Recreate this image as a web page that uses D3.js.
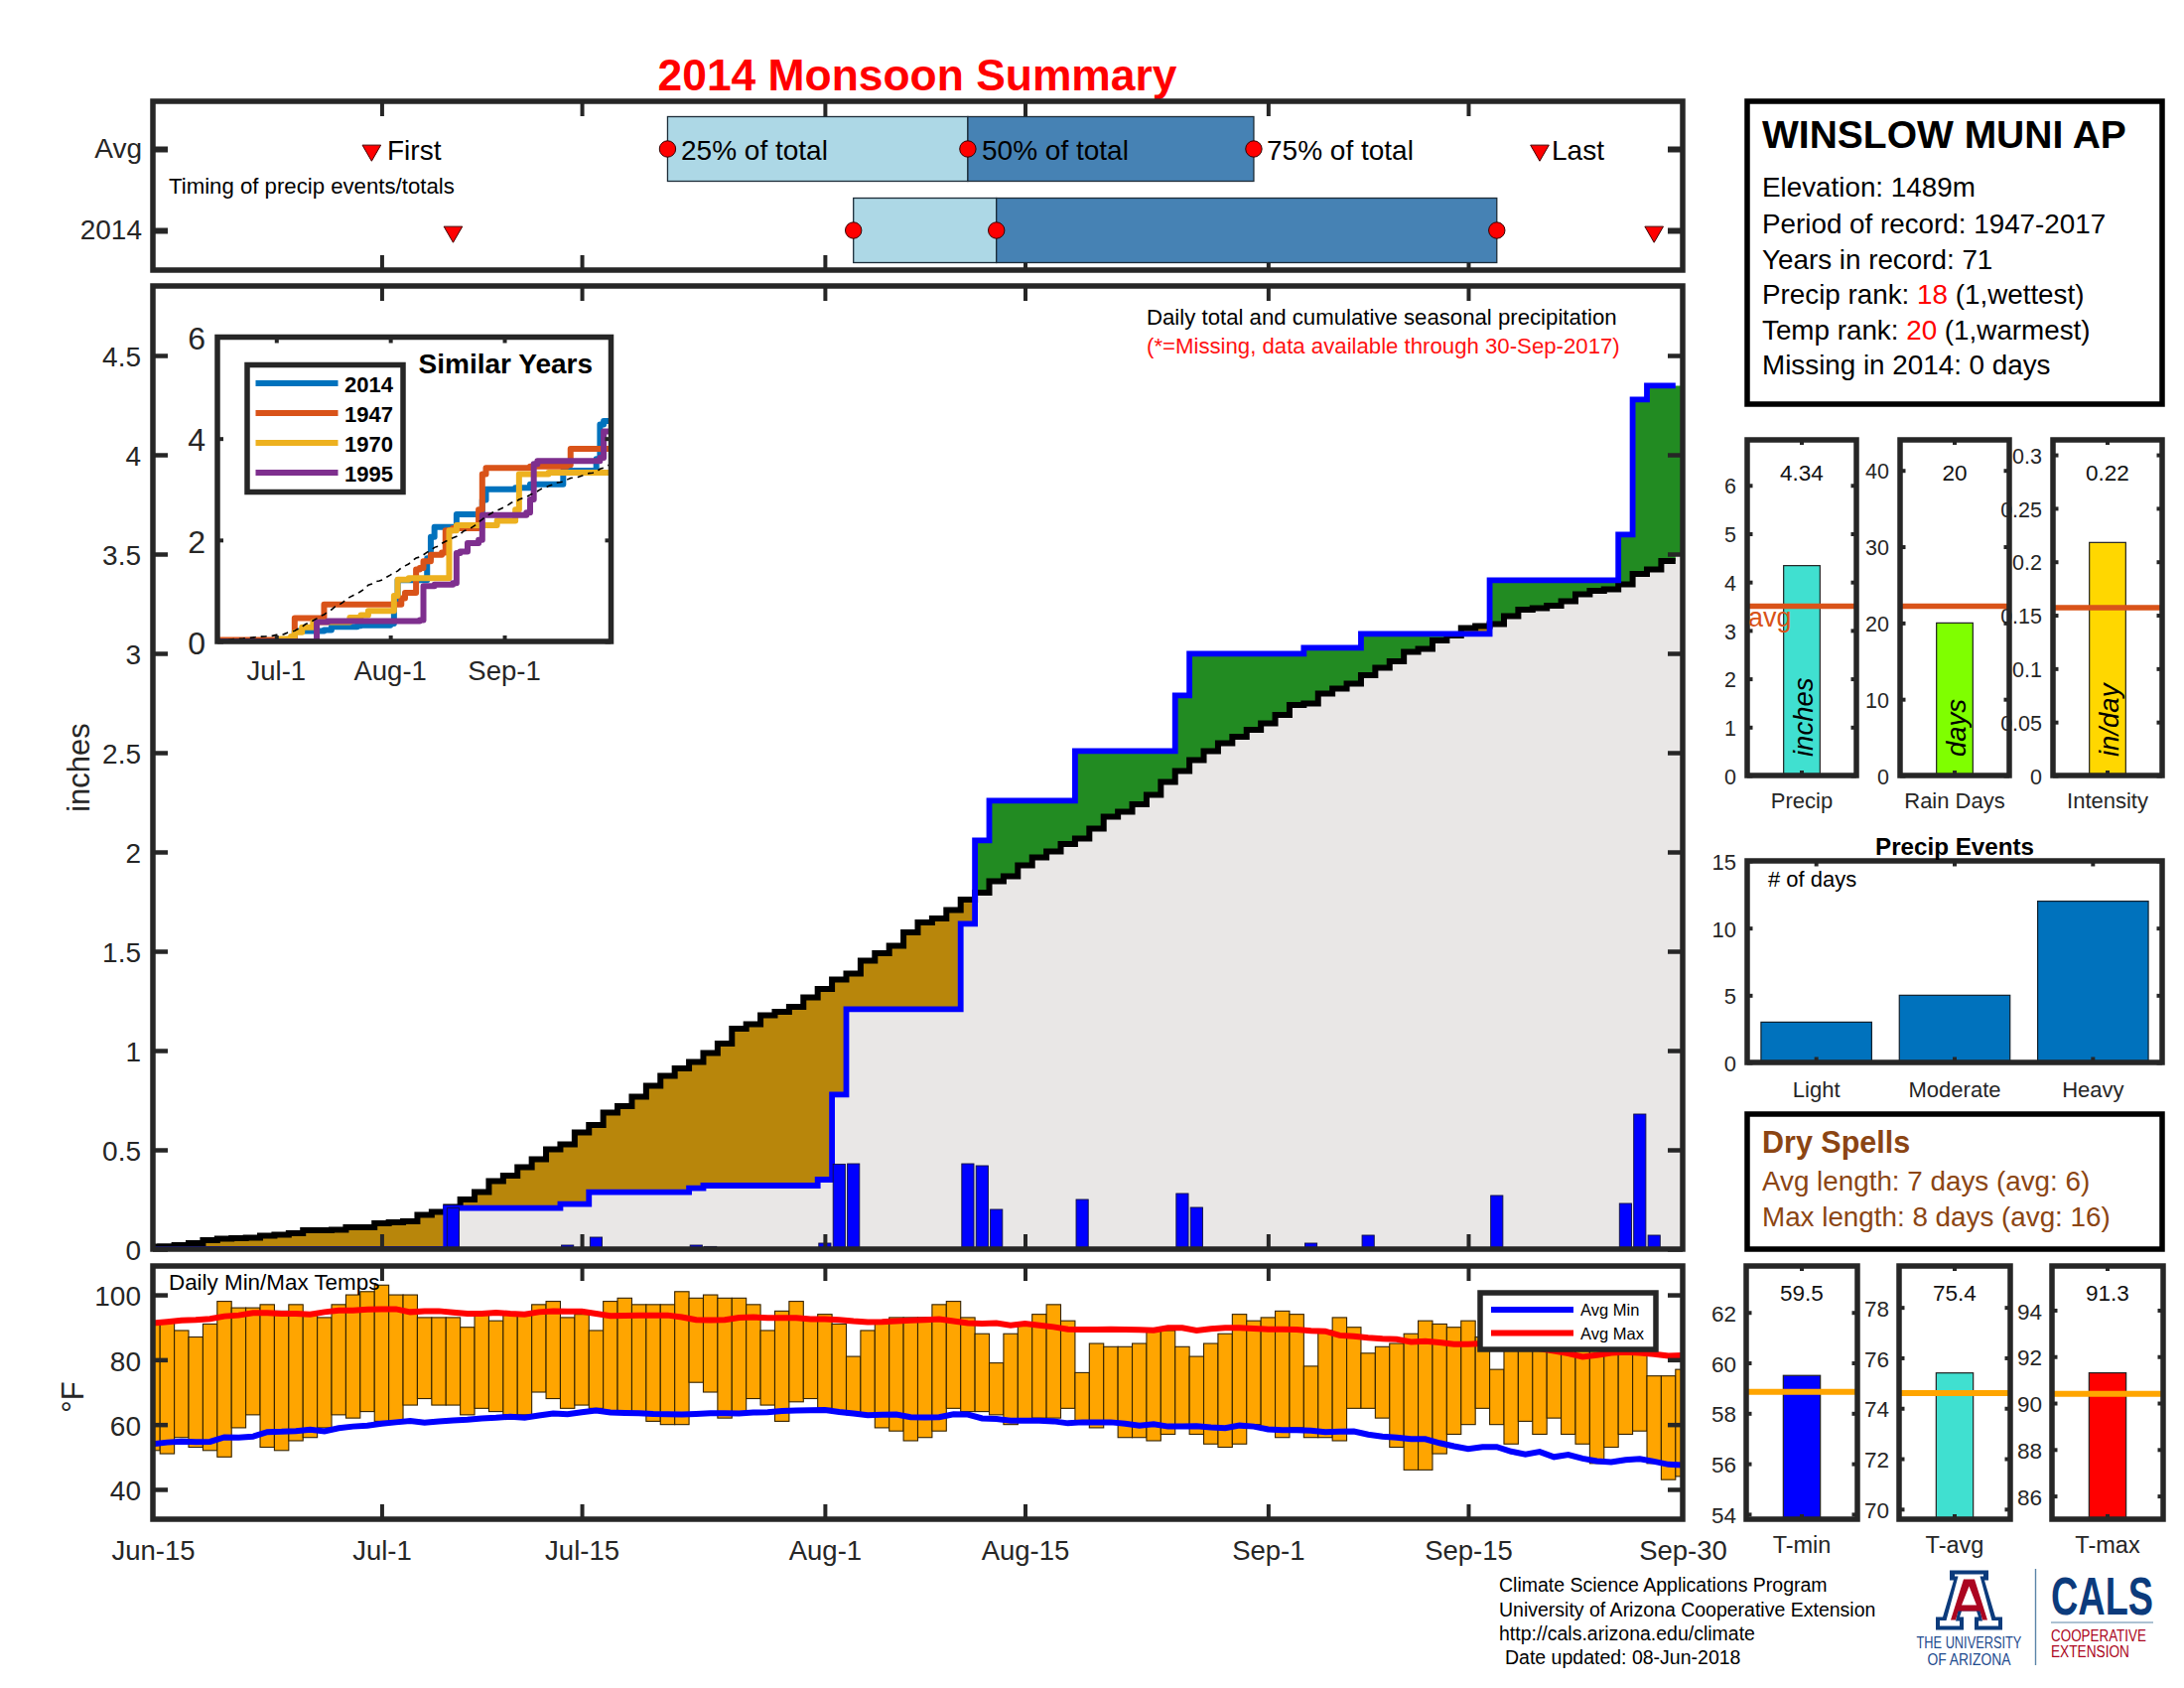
<!DOCTYPE html>
<html><head><meta charset="utf-8">
<script src="https://cdn.jsdelivr.net/npm/d3@7"></script>
<style>html,body{margin:0;padding:0;background:#fff}svg{display:block}text{font-family:"Liberation Sans",Arial,sans-serif}</style>
</head><body><div id="c"></div>
<script>
// ---------- DATA ----------
const dayTicks=[0,16,30,47,61,78,92,107];
const dayLabels=["Jun-15","Jul-1","Jul-15","Aug-1","Aug-15","Sep-1","Sep-15","Sep-30"];
const innerTicks=[16,30,47,61,78,92];
const rowLabels=["Avg","2014"];
const timingAvg=[36,57,77];
const timing2014=[49,59,94];
const firstLast=[[15.3,97],[21,105]];
const timingNames=["25% of total","50% of total","75% of total"];

const dailyDays=[21,29,31,38,39,47,48,49,57,58,59,65,72,73,81,85,94,103,104,105];
const dailyVals=[.207,.02,.06,.02,.013,.03,.428,.43,.43,.42,.2,.25,.28,.21,.03,.07,.27,.23,.68,.07];
const avgCum=[.012,.014,.02,.03,.045,.053,.055,.058,.068,.072,.08,.095,.095,.097,.11,.11,.13,.135,.14,.173,.187,.212,.25,.287,.342,.37,.412,.453,.503,.528,.587,.625,.687,.72,.767,.823,.873,.91,.943,.988,1.035,1.11,1.133,1.178,1.195,1.22,1.267,1.31,1.357,1.387,1.453,1.49,1.527,1.595,1.645,1.665,1.707,1.76,1.795,1.853,1.878,1.932,1.973,2.003,2.04,2.068,2.118,2.178,2.203,2.24,2.287,2.353,2.407,2.462,2.507,2.548,2.58,2.615,2.648,2.69,2.74,2.748,2.798,2.823,2.848,2.89,2.927,2.96,3.007,3.023,3.065,3.09,3.127,3.137,3.148,3.187,3.22,3.228,3.24,3.262,3.298,3.315,3.323,3.348,3.40,3.423,3.465,3.49];

const tMax=[91,92,89,87,91,98,96,96,97,95,97,94,93,97,100,101,103,100,100,93,93,93,90,94,92,94,94,97,98,93,94,89,98,99,97,97,97,101,99,100,99,99,97,89,95,98,92,94,91,81,89,92,93,93,93,97,98,93,88,79,88,91,94,97,92,76,85,84,84,85,89,89,84,81,85,88,94,92,93,95,94,78,89,93,90,82,84,85,88,92,91,90,92,87,77,90,88,87,88,86,84,87,86,85,85,75,75,77];
const tMin=[52,51,56,53,52,50,59,63,53,52,55,56,59,63,62,64,61,61,66,68,66,66,63,65,64,63,63,70,68,65,66,65,64,64,63,61,60,60,73,70,62,63,68,66,61,67,68,65,64,63,63,59,58,55,56,58,65,64,64,63,60,61,62,62,65,61,59,61,56,56,55,57,60,57,54,53,54,60,59,56,59,56,56,55,65,65,62,53,46,46,51,57,60,65,60,54,61,57,62,57,54,48,53,57,58,48,43,44];
const avgMax=[91.3,91.7,92.1,92.3,92.6,93.4,93.7,94.4,94.4,94.2,94.2,94.0,94.7,95.2,95.2,95.5,95.6,95.6,94.7,95.0,95.0,94.6,94.2,94.2,94.5,94.2,94.0,94.7,95.0,94.9,94.9,94.2,93.5,93.6,93.7,93.7,93.7,93.1,92.3,92.2,92.3,93.0,93.1,92.9,92.9,92.9,92.5,92.5,92.3,91.9,91.6,91.7,91.9,92.1,92.3,92.5,91.9,91.3,91.1,91.3,90.6,91.1,90.6,90.1,89.4,89.3,89.3,89.4,89.3,89.2,89.1,89.8,89.8,89.0,89.5,89.8,89.8,89.6,89.4,89.4,89.3,88.9,88.8,87.5,87.2,86.8,86.5,86.3,85.5,85.7,85.3,84.8,84.8,85.0,85.0,84.5,84.2,83.4,82.7,81.9,80.9,81.4,82.1,82.3,82.1,81.7,81.2,81.3];
const avgMin=[54.0,54.5,54.8,54.6,54.7,56.1,56.0,56.3,57.7,57.8,58.0,58.4,57.9,58.9,59.4,59.7,60.3,60.7,61.1,60.6,61.0,61.3,61.5,61.9,62.1,62.4,62.1,62.8,63.4,63.2,63.8,64.3,63.7,63.6,63.5,63.3,63.2,63.1,63.3,63.5,63.5,63.4,63.7,63.8,64.2,64.3,64.4,64.5,63.9,63.4,62.9,63.0,63.1,62.3,62.2,62.3,63.2,63.1,61.9,61.7,61.2,61.2,61.2,61.0,60.4,60.7,60.7,60.7,60.3,59.7,60.1,59.4,59.4,59.5,59.1,58.9,59.7,59.4,58.5,58.3,58.3,58.1,57.7,57.8,57.9,56.9,56.3,56.0,55.5,55.5,54.3,53.3,52.5,53.1,53.1,51.7,50.8,51.6,50.0,50.7,49.5,48.7,48.4,49.1,49.4,48.6,47.7,47.5];

const y1947Days=[0,16,20,21,29,49,50,51,54,55,56,58,61,62,64,71,72,73,85,95,96,107];
const y1947Vals=[.03,.04,.06,.46,.73,.73,.85,.96,1.42,1.45,1.58,1.71,1.75,2.19,2.23,2.6,3.3,3.42,3.45,3.48,3.8,3.8];
const y1970Days=[0,17,20,21,23,26,36,39,41,48,49,52,63,65,76,81,82,90,107];
const y1970Vals=[0,.05,.1,.18,.28,.38,.47,.52,.6,.9,1.22,1.25,2.19,2.29,2.38,2.6,3.3,3.33,3.35];
const y1995Days=[0,27,30,55,56,59,64,65,66,68,71,72,84,85,86,87,104,105,107];
const y1995Vals=[0,.38,.4,.42,1.09,1.12,1.15,1.74,1.77,1.94,2.0,2.49,2.54,2.8,3.5,3.56,3.62,4.14,4.2];
const similarNames=["2014","1947","1970","1995"];
const similarColors=["#0072BD","#D95319","#EDB120","#7E2F8E"];

const eventCats=["Light","Moderate","Heavy"];
const eventVals=[3,5,12];
const stationLines=["Elevation: 1489m","Period of record: 1947-2017","Years in record: 71"];
const footerLines=["Climate Science Applications Program","University of Arizona Cooperative Extension","http://cals.arizona.edu/climate"," Date updated: 08-Jun-2018"];

// ---------- SETUP ----------
const DK="#262626";
const svg=d3.select("#c").append("svg").attr("width",2200).attr("height",1700).attr("viewBox","0 0 2200 1700");
const defs=svg.append("defs");
function T(p,x,y,s,size,o={}){
  const t=p.append("text").attr("x",x).attr("y",y).attr("font-size",size).attr("fill",o.fill||"#000").text(s);
  if(o.anchor)t.attr("text-anchor",o.anchor);
  if(o.bold)t.attr("font-weight","bold");
  if(o.italic)t.attr("font-style","italic");
  if(o.rot!==undefined)t.attr("transform",`rotate(${o.rot} ${x} ${y})`);
  if(o.len){ // squeeze horizontally to a given width
    const w=t.node().getComputedTextLength();
    t.attr("x",0).attr("y",0).attr("transform",`translate(${x},${y}) scale(${o.len/w},1)`);
  }
  return t;
}
function styleAxis(g,o){
  g.select(".domain").remove();
  g.selectAll(".tick line").attr("stroke",o.color||DK).attr("stroke-width",o.tw||4);
  g.selectAll(".tick text").attr("fill",o.color||DK).attr("font-size",o.fs||27).attr("font-family",'"Liberation Sans",Arial,sans-serif');
  return g;
}
function frame(p,x0,x1,y0,y1,sw,color){
  p.append("rect").attr("x",x0).attr("y",y0).attr("width",x1-x0).attr("height",y1-y0).attr("fill","none").attr("stroke",color||DK).attr("stroke-width",sw);
}
function bg(p,x0,x1,y0,y1){p.append("rect").attr("x",x0).attr("y",y0).attr("width",x1-x0).attr("height",y1-y0).attr("fill","#fff");}
function clip(id,x0,x1,y0,y1){defs.append("clipPath").attr("id",id).append("rect").attr("x",x0).attr("y",y0).attr("width",x1-x0).attr("height",y1-y0);}
function xTicks(p,x,yTop,yBot,len,tw,vals){
  vals=vals||innerTicks;
  styleAxis(p.append("g").attr("transform",`translate(0,${yBot})`).call(d3.axisBottom(x).tickValues(vals).tickSize(-len).tickFormat("")),{tw});
  styleAxis(p.append("g").attr("transform",`translate(0,${yTop})`).call(d3.axisTop(x).tickValues(vals).tickSize(-len).tickFormat("")),{tw});
}
function yTicks(p,y,xL,xR,len,tw,vals,fmt,fs,pad){
  const a=styleAxis(p.append("g").attr("transform",`translate(${xL},0)`).call(d3.axisLeft(y).tickValues(vals).tickSize(-len).tickPadding(pad).tickFormat(fmt)),{tw,fs});
  a.selectAll(".tick text").attr("dy",".38em");
  styleAxis(p.append("g").attr("transform",`translate(${xR},0)`).call(d3.axisRight(y).tickValues(vals).tickSize(-len).tickFormat("")),{tw});
}
const L=154,R=1695;
const x=d3.scaleLinear().domain([0,107]).range([L,R]);

// Title
T(svg,924,91,"2014 Monsoon Summary",44.4,{fill:"#f00",bold:true,anchor:"middle"});

// ---------- TIMING STRIP ----------
{
  const g=svg.append("g");const top=102,bot=272;
  const cy={Avg:150,"2014":232};const h=65;
  const rows=[["Avg",timingAvg],["2014",timing2014]];
  xTicks(g,x,top,bot,15,4);
  rows.forEach(([k,v])=>{
    g.append("rect").attr("x",x(v[0])).attr("width",x(v[1])-x(v[0])).attr("y",cy[k]-h/2).attr("height",h).attr("fill","#ADD8E6").attr("stroke","#1c2c38").attr("stroke-width",1.3);
    g.append("rect").attr("x",x(v[1])).attr("width",x(v[2])-x(v[1])).attr("y",cy[k]-h/2).attr("height",h).attr("fill","#4682B4").attr("stroke","#1c2c38").attr("stroke-width",1.3);
    v.forEach(d=>g.append("circle").attr("cx",x(d)).attr("cy",cy[k]).attr("r",8.2).attr("fill","#f00").attr("stroke","#300").attr("stroke-width",1));
  });
  rows.forEach(([k],i)=>firstLast[i].forEach(d=>{
    g.append("path").attr("d",d3.symbol(d3.symbolTriangle,150)).attr("transform",`translate(${x(d)},${cy[k]+1.5}) rotate(180)`).attr("fill","#f00").attr("stroke","#400").attr("stroke-width",1);
  }));
  const ya=d3.scalePoint().domain(rowLabels).range([cy.Avg,cy["2014"]]);
  styleAxis(g.append("g").attr("transform",`translate(${L},0)`).call(d3.axisLeft(ya).tickSize(-15).tickPadding(11)),{tw:6,fs:28});
  styleAxis(g.append("g").attr("transform",`translate(${R},0)`).call(d3.axisRight(ya).tickSize(-15).tickFormat("")),{tw:6});
  T(g,390,161,"First",28);
  T(g,686,161,timingNames[0],28);
  T(g,989,161,timingNames[1],28);
  T(g,1276,161,timingNames[2],28);
  T(g,1563,161,"Last",28);
  T(g,170,195,"Timing of precip events/totals",22.2);
  frame(g,L,R,top,bot,5.5);
}

// ---------- MAIN PRECIP ----------
{
  const g=svg.append("g");const top=288,bot=1258;
  const y=d3.scaleLinear().domain([0,4.85]).range([bot,top]);
  clip("mc",L,R,top,bot);
  const days=d3.range(108);
  const daily=days.map(i=>{const k=dailyDays.indexOf(i);return k<0?0:dailyVals[k];});
  const cum=Array.from(d3.cumsum(daily));
  const pts=days.map(i=>({i,a:avgCum[i],c:cum[i]}));
  const xe=d=>x(d.i-.5);
  const fillPts=pts.concat([{i:108,a:avgCum[107],c:cum[107]}]);
  const area=(y0,y1)=>d3.area().x(xe).y0(d=>y(y0(d))).y1(d=>y(y1(d))).curve(d3.curveStepAfter);
  const m=g.append("g").attr("clip-path","url(#mc)");
  m.append("path").datum(fillPts).attr("d",area(d=>0,d=>Math.min(d.a,d.c))).attr("fill","#E9E7E6");
  m.append("path").datum(fillPts).attr("d",area(d=>Math.min(d.a,d.c),d=>d.a)).attr("fill","#B8860B");
  m.append("path").datum(fillPts).attr("d",area(d=>d.a,d=>Math.max(d.a,d.c))).attr("fill","#228B22");
  const stair=k=>d3.line().x(xe).y(d=>y(d[k])).curve(d3.curveStepAfter);
  const linePts=pts.filter(d=>d.i<=106).concat([{i:107,a:avgCum[106],c:cum[106]}]);
  m.append("path").datum(linePts).attr("d",stair("a")).attr("fill","none").attr("stroke","#000").attr("stroke-width",6);
  m.append("path").datum(linePts).attr("d",stair("c")).attr("fill","none").attr("stroke","#00f").attr("stroke-width",5.8);
  const bw=12.2;
  m.selectAll(".db").data(dailyDays.map((d,i)=>({d,v:dailyVals[i]}))).join("rect").attr("x",d=>x(d.d)-bw/2).attr("width",bw).attr("y",d=>y(d.v)).attr("height",d=>y(0)-y(d.v)).attr("fill","#00f").attr("stroke","#111140").attr("stroke-width",.9);
  xTicks(g,x,top,bot,15,4);
  yTicks(g,y,L,R,15,4.5,d3.range(0,4.6,.5),d=>d,28,12);
  frame(g,L,R,top,bot,5.5);
  T(g,90,773,"inches",31,{anchor:"middle",rot:-90,fill:DK});
  T(g,1155,327,"Daily total and cumulative seasonal precipitation",22.2);
  T(g,1155,356,"(*=Missing, data available through 30-Sep-2017)",22.2,{fill:"#f11"});

  // inset
  const ig=g.append("g");
  const iL=219,iR=615.5,iT=339.5,iB=646;
  const ix=d3.scaleLinear().domain([0,107]).range([iL,iR]);
  const iy=d3.scaleLinear().domain([0,6]).range([iB,iT]);
  bg(ig,iL,iR,iT,iB);
  clip("ic",iL,iR,iT,iB);
  const ic=ig.append("g").attr("clip-path","url(#ic)");
  const is=d3.line().x(d=>ix(d[0])).y(d=>iy(d[1])).curve(d3.curveStepAfter);
  const to=(ds,vs)=>ds.map((d,i)=>[d,vs[i]]);
  const series=[days.map(i=>[i,cum[i]]),to(y1947Days,y1947Vals),to(y1970Days,y1970Vals),to(y1995Days,y1995Vals)];
  series.forEach((s,i)=>ic.append("path").datum(s).attr("d",is).attr("fill","none").attr("stroke",similarColors[i]).attr("stroke-width",6).attr("stroke-linejoin","round"));
  ic.append("path").datum(days.map(i=>[i,avgCum[i]])).attr("d",d3.line().x(d=>ix(d[0])).y(d=>iy(d[1]))).attr("fill","none").attr("stroke","#000").attr("stroke-width",1.6).attr("stroke-dasharray","6 5");
  xTicks(ig,ix,iT,iB,6,4,[16,47,78]);
  yTicks(ig,iy,iL,iR,6,4,[0,2,4,6],d=>d,32,12);
  [16,47,78].forEach((d,i)=>T(ig,ix(d),685,["Jul-1","Aug-1","Sep-1"][i],27.5,{anchor:"middle",fill:DK}));
  frame(ig,iL,iR,iT,iB,5.5);
  T(ig,597,376,"Similar Years",28,{bold:true,anchor:"end"});
  const lg=ig.append("g");
  lg.append("rect").attr("x",249).attr("y",367.5).attr("width",157).attr("height",128).attr("fill","#fff").attr("stroke",DK).attr("stroke-width",5.5);
  similarNames.forEach((n,i)=>{
    const yy=386+30*i;
    lg.append("line").attr("x1",257.5).attr("x2",340.5).attr("y1",yy).attr("y2",yy).attr("stroke",similarColors[i]).attr("stroke-width",6);
    T(lg,347,yy+9,n,22,{bold:true});
  });
}

// ---------- TEMPS ----------
{
  const g=svg.append("g");const top=1275,bot=1530;
  const y=d3.scaleLinear().domain([30.8,108.9]).range([bot,top]);
  clip("tc",L,R,top,bot);
  const m=g.append("g").attr("clip-path","url(#tc)");
  m.selectAll("rect").data(tMax.map((d,i)=>({i,hi:d,lo:tMin[i]}))).join("rect")
    .attr("x",d=>x(d.i-.5)).attr("width",x(1)-x(0)).attr("y",d=>y(d.hi)).attr("height",d=>y(d.lo)-y(d.hi)).attr("fill","#FFA500").attr("stroke","#332200").attr("stroke-width",1.1);
  const ln=d3.line().x((d,i)=>x(i)).y(d=>y(d));
  m.append("path").datum(avgMin).attr("d",ln).attr("fill","none").attr("stroke","#00f").attr("stroke-width",6);
  m.append("path").datum(avgMax).attr("d",ln).attr("fill","none").attr("stroke","#f00").attr("stroke-width",6);
  xTicks(g,x,top,bot,15,4);
  yTicks(g,y,L,R,15,4.5,[40,60,80,100],d=>d,28,12);
  frame(g,L,R,top,bot,5.5);
  styleAxis(g.append("g").attr("transform",`translate(0,${bot})`).call(d3.axisBottom(x).tickValues(dayTicks).tickSize(0).tickPadding(21).tickFormat((d,i)=>dayLabels[i])),{fs:27.5});
  T(g,84,1407,"°F",31,{anchor:"middle",rot:-90,fill:DK});
  T(g,170,1299,"Daily Min/Max Temps",22.4);
  const lg=g.append("g");
  lg.append("rect").attr("x",1491).attr("y",1302).attr("width",177).attr("height",57).attr("fill","#fff").attr("stroke",DK).attr("stroke-width",5.5);
  ["Avg Min","Avg Max"].forEach((n,i)=>{
    const yy=1319+23.5*i;
    lg.append("line").attr("x1",1502).attr("x2",1585).attr("y1",yy).attr("y2",yy).attr("stroke",i?"#f00":"#00f").attr("stroke-width",6);
    T(lg,1592,yy+6,n,16.5);
  });
}

// ---------- STATION BOX ----------
{
  const g=svg.append("g");
  frame(g,1760,2178,102,407,5.5,"#000");
  T(g,1775,149,"WINSLOW MUNI AP",39,{bold:true});
  stationLines.forEach((s,i)=>T(g,1775,[198,235,271][i],s,27.8));
  const rich=(y,a,b,c)=>{const t=T(g,1775,y,"",27.8);t.append("tspan").text(a);t.append("tspan").attr("fill","#f00").text(b);t.append("tspan").text(c);};
  rich(306,"Precip rank: ","18"," (1,wettest)");
  rich(342,"Temp rank: ","20"," (1,warmest)");
  T(g,1775,377,"Missing in 2014: 0 days",27.8);
}

// ---------- MINI BARS ----------
function mini(o){
  const g=svg.append("g");
  const y=d3.scaleLinear().domain(o.dom).range([o.bot,o.top]);
  const cx=(o.x0+o.x1)/2;
  const bx=d3.scaleBand().domain([o.name]).range([o.x0,o.x1]).paddingInner(0).paddingOuter(1);
  g.append("rect").attr("x",bx(o.name)).attr("width",bx.bandwidth()).attr("y",y(o.val)).attr("height",o.bot-y(o.val)).attr("fill",o.color).attr("stroke","#222").attr("stroke-width",1.2);
  g.append("line").attr("x1",o.x0).attr("x2",o.x1).attr("y1",y(o.avg)).attr("y2",y(o.avg)).attr("stroke",o.lineColor).attr("stroke-width",o.lw);
  yTicks(g,y,o.x0,o.x1,5.5,4,o.ticks,o.fmt||(d=>d),o.fs,o.pad);
  styleAxis(g.append("g").attr("transform",`translate(0,${o.bot})`).call(d3.axisBottom(bx).tickSize(-5).tickFormat("")),{tw:4});
  styleAxis(g.append("g").attr("transform",`translate(0,${o.top})`).call(d3.axisTop(bx).tickSize(-5).tickFormat("")),{tw:4});
  frame(g,o.x0,o.x1,o.top,o.bot,5.5);
  T(g,cx,o.top+o.vy,o.label,22.5,{anchor:"middle",fill:"#111"});
  T(g,cx,o.nameY,o.name,o.nfs,{anchor:"middle",fill:DK});
  if(o.rotText)T(g,cx+11,762,o.rotText,27.5,{italic:true,rot:-90});
  if(o.avgText)T(g,o.x0+1,631,o.avgText,27,{fill:"#D95319"});
}
const sharedA={top:443,bot:781,lineColor:"#D95319",lw:5.5,fs:21.5,pad:11,vy:41,nameY:814,nfs:22};
mini({...sharedA,x0:2068,x1:2178,dom:[0,.314],val:.218,avg:.157,color:"#FFD700",ticks:[0,.05,.1,.15,.2,.25,.3],name:"Intensity",label:"0.22",rotText:"in/day"});
mini({...sharedA,x0:1914,x1:2024,dom:[0,44],val:20,avg:22.2,color:"#7FFF00",ticks:[0,10,20,30,40],name:"Rain Days",label:"20",rotText:"days"});
mini({...sharedA,x0:1760,x1:1870,dom:[0,6.94],val:4.34,avg:3.5,color:"#40E0D0",ticks:[0,1,2,3,4,5,6],name:"Precip",label:"4.34",rotText:"inches",avgText:"avg"});

const sharedT={top:1275,bot:1530,lineColor:"#FFA500",lw:6,fs:22.5,pad:10,vy:35,nameY:1564,nfs:23.5};
mini({...sharedT,x0:2067,x1:2179,dom:[85.0,95.9],val:91.3,avg:90.4,color:"#f00",ticks:[86,88,90,92,94],name:"T-max",label:"91.3"});
mini({...sharedT,x0:1913,x1:2025,dom:[69.6,79.64],val:75.4,avg:74.6,color:"#40E0D0",ticks:[70,72,74,76,78],name:"T-avg",label:"75.4"});
mini({...sharedT,x0:1759,x1:1871,dom:[53.8,63.84],val:59.5,avg:58.85,color:"#00f",ticks:[54,56,58,60,62],name:"T-min",label:"59.5"});

// ---------- PRECIP EVENTS ----------
{
  const g=svg.append("g");const X0=1760,X1=2178,top=867,bot=1070;
  const ex=d3.scaleBand().domain(eventCats).range([X0,X1]).paddingInner(.2).paddingOuter(.1);
  const y=d3.scaleLinear().domain([0,15]).range([bot,top]);
  g.selectAll(".ev").data(eventVals).join("rect").attr("x",(d,i)=>ex(eventCats[i])).attr("width",ex.bandwidth()).attr("y",d=>y(d)).attr("height",d=>bot-y(d)).attr("fill","#0072BD").attr("stroke","#10202c").attr("stroke-width",1.2);
  yTicks(g,y,X0,X1,5.5,4,[0,5,10,15],d=>d,22,11);
  styleAxis(g.append("g").attr("transform",`translate(0,${bot})`).call(d3.axisBottom(ex).tickSize(-5.5).tickPadding(19)),{fs:22,tw:4});
  styleAxis(g.append("g").attr("transform",`translate(0,${top})`).call(d3.axisTop(ex).tickSize(-5.5).tickFormat("")),{tw:4});
  frame(g,X0,X1,top,bot,5.5);
  T(g,1969,861,"Precip Events",24.2,{bold:true,anchor:"middle"});
  T(g,1781,893,"# of days",22);
}

// ---------- DRY SPELLS ----------
{
  const g=svg.append("g");const B="#8B4513";
  frame(g,1760,2178,1122,1258,5.5,"#000");
  T(g,1775,1161,"Dry Spells",30.5,{bold:true,fill:B});
  T(g,1775,1199,"Avg length: 7 days (avg: 6)",27.8,{fill:B});
  T(g,1775,1235,"Max length: 8 days (avg: 16)",27.8,{fill:B});
}

// ---------- FOOTER ----------
{
  const g=svg.append("g");
  footerLines.forEach((s,i)=>T(g,i==3?1516:1510,[1603,1627.5,1652,1676][i],s.trim(),19.5));
}
// ---------- LOGO ----------
{
  const g=svg.append("g");const NV="#0C3B7C",RD="#AB0520";
  const a=g.append("g").attr("transform","translate(1950,1581.5)");
  a.append("path").attr("d","M14,0 H53 V10 H49 L60,47 H67 V60 H39 V47 H43 L41,41 H26 L24,47 H28 V60 H0 V47 H7 L18,10 H14 Z").attr("fill",NV);
  a.append("path").attr("d","M19,4 H48 V6 H44.5 L56.5,50.5 H63 V56 H43 V51 H47 L44,37 H23 L20,51 H24 V56 H4 V50.5 H10.5 L22.5,6 H19 Z").attr("fill","#fff");
  a.append("path").attr("d","M28,9 H39 L52,50 H47 L44.5,41 H22.5 L20,50 H15 Z M33.5,16 L26,35 H41 Z").attr("fill",RD).attr("fill-rule","evenodd");
  T(g,1930.5,1660,"THE UNIVERSITY",17,{fill:"#1E4B8E",len:106});
  T(g,1941.5,1677,"OF ARIZONA",17,{fill:"#1E4B8E",len:84});
  g.append("line").attr("x1",2050.5).attr("x2",2050.5).attr("y1",1580).attr("y2",1677).attr("stroke","#5B85A8").attr("stroke-width",1.4);
  T(g,2066,1626,"CALS",54,{bold:true,fill:NV,len:103});
  g.append("line").attr("x1",2066).attr("x2",2169).attr("y1",1634).attr("y2",1634).attr("stroke","#5B85A8").attr("stroke-width",1.2);
  T(g,2066,1653,"COOPERATIVE",16.5,{fill:RD,len:96});
  T(g,2066,1668.5,"EXTENSION",16.5,{fill:RD,len:79});
}
</script></body></html>
